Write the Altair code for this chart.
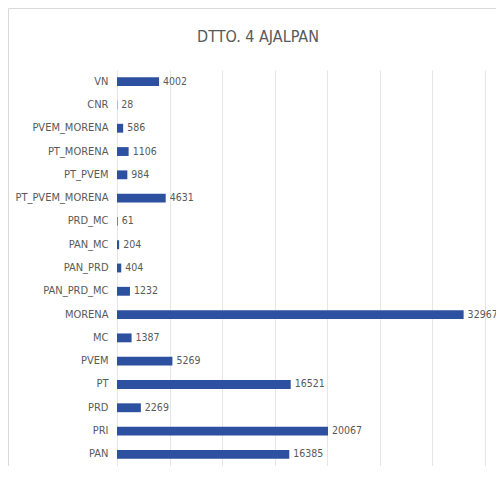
import altair as alt
import pandas as pd

categories = ["VN", "CNR", "PVEM_MORENA", "PT_MORENA", "PT_PVEM", "PT_PVEM_MORENA",
              "PRD_MC", "PAN_MC", "PAN_PRD", "PAN_PRD_MC", "MORENA", "MC", "PVEM",
              "PT", "PRD", "PRI", "PAN"]
votes = [4002, 28, 586, 1106, 984, 4631, 61, 204, 404, 1232, 32967, 1387, 5269,
         16521, 2269, 20067, 16385]
x_ticks = [0, 5000, 10000, 15000, 20000, 25000, 30000, 35000]
title_text = ["DTTO. 4 AJALPAN"]

df = pd.DataFrame({"partido": categories, "votos": votes})
df_title = pd.DataFrame({"t": title_text})

FONT = "'Liberation Sans Narrow', 'DejaVu Sans Condensed', 'Arial Narrow', sans-serif"
GRAY = "#595959"

y_enc = alt.Y("partido:N", sort=categories,
              scale=alt.Scale(paddingInner=0.62, paddingOuter=0.31),
              axis=alt.Axis(title=None, ticks=False, domain=False, labelPadding=9,
                            labelFont=FONT, labelFontSize=11, labelColor=GRAY, grid=False))
x_enc = alt.X("votos:Q", scale=alt.Scale(domain=[0, 35000], nice=False),
              axis=alt.Axis(title=None, labels=False, ticks=False, domain=False,
                            values=x_ticks, grid=True, gridColor="#e6e6e6", gridWidth=1))

bars = alt.Chart(df).mark_bar(color="#2E50A0").encode(x=x_enc, y=y_enc)
labels = alt.Chart(df).mark_text(align="left", baseline="middle", dx=4,
                                 font=FONT, fontSize=10.5, color=GRAY).encode(
    x="votos:Q", y=alt.Y("partido:N", sort=categories), text="votos:Q")

border = alt.Chart(df_title).mark_rect(fill=None, stroke="#d9d9d9", strokeWidth=1).encode(
    x=alt.value(-108.5), x2=alt.value(420), y=alt.value(-61.5), y2=alt.value(420))

title = alt.Chart(df_title).mark_text(align="center", baseline="middle", font=FONT,
                                      fontSize=16, color=GRAY).encode(
    x=alt.value(141), y=alt.value(-33), text="t:N")

chart = alt.layer(border, bars, labels, title).properties(
    width=368, height=396,
    autosize=alt.AutoSizeParams(type="none"),
    padding={"left": 109, "top": 62, "right": 11, "bottom": 0},
).configure_view(stroke=None)

chart.save("out.html", embed_options={"renderer": "svg", "actions": False})
